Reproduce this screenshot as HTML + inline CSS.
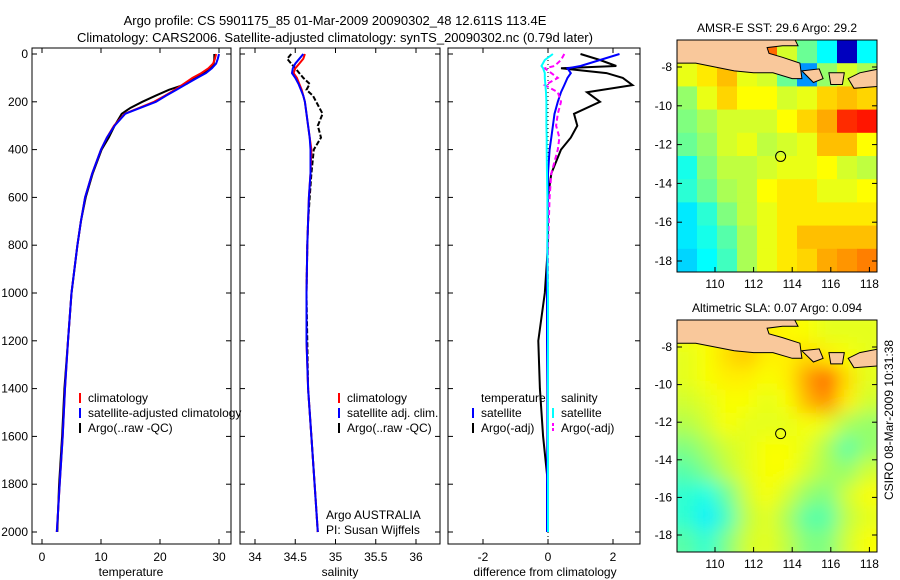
<!DOCTYPE html>
<html><head><meta charset="utf-8">
<style>
body{margin:0;background:#fff;}
svg{display:block;font-family:"Liberation Sans",sans-serif;}
</style></head>
<body>
<svg id="fig" width="900" height="580" viewBox="0 0 900 580">
<text x="335" y="25" font-size="13" text-anchor="middle">Argo profile: CS 5901175_85 01-Mar-2009 20090302_48 12.611S 113.4E</text>
<text x="335" y="42" font-size="13" text-anchor="middle">Climatology: CARS2006. Satellite-adjusted climatology: synTS_20090302.nc (0.79d later)</text>
<text x="893" y="420" font-size="12" text-anchor="middle" transform="rotate(-90 893 420)">CSIRO 08-Mar-2009 10:31:38</text>
<defs>
<clipPath id="c1"><rect x="32" y="48" width="199" height="496"/></clipPath>
<clipPath id="c2"><rect x="240" y="48" width="200" height="496"/></clipPath>
<clipPath id="c3"><rect x="448" y="48" width="192" height="496"/></clipPath>
<clipPath id="m1"><rect x="677" y="40" width="200" height="232"/></clipPath>
<clipPath id="m2"><rect x="677" y="320" width="200" height="232"/></clipPath>
<filter id="blur"><feGaussianBlur stdDeviation="9"/></filter>
</defs>
<g id="layer"></g>
</svg>
<script>
// ---- data ----
const depths = [0,20,40,60,80,100,125,150,175,200,225,250,300,350,400,500,600,700,800,1000,1200,1400,1600,1800,2000];
const tempClim = [29.5,29.3,29,28.2,27,25.5,24,22.5,20.8,19,16.5,14,12.2,11,10,8.5,7.3,6.6,6,5,4.4,3.9,3.5,3.0,2.5];
const tempSat = [30,29.8,29.5,28.8,27.8,26.3,24.5,22.8,21,19.3,16.7,14.1,12.3,11,10,8.5,7.3,6.6,6,5,4.4,3.9,3.5,3.0,2.5];
const tempArgo = [29.2,29.2,29.1,28.5,27.5,26,24.5,21.5,19.2,17,15,13.5,12.3,11.3,10.1,8.6,7.4,6.6,6,5,4.4,3.8,3.4,2.9,2.6];
const salClim = [34.62,34.6,34.55,34.5,34.48,34.52,34.55,34.58,34.6,34.62,34.63,34.64,34.66,34.68,34.7,34.69,34.67,34.66,34.65,34.64,34.64,34.66,34.7,34.74,34.78];
const salSat = [34.6,34.55,34.5,34.47,34.46,34.5,34.54,34.57,34.6,34.62,34.63,34.64,34.66,34.68,34.69,34.69,34.67,34.66,34.65,34.64,34.64,34.66,34.7,34.74,34.78];
const salArgo = [34.45,34.4,34.45,34.5,34.55,34.6,34.68,34.64,34.72,34.76,34.8,34.84,34.78,34.82,34.73,34.7,34.68,34.66,34.65,34.64,34.65,34.66,34.7,34.74,34.78];
const diffDepths = [0,25,50,60,80,100,130,160,200,250,300,350,400,500,600,800,1000,1200,1400,1600,1800,2000];
const dTempArgo = [1.0,1.6,2.1,0.4,1.8,2.3,2.6,1.2,1.6,0.8,0.9,0.7,0.4,0.1,0,0,-0.1,-0.3,-0.25,-0.15,0,0];
const dTempSat = [2.2,1.6,1.0,0.6,0.7,0.6,0.5,0.4,0.3,0.2,0.15,0.1,0.05,0,0,-0.02,-0.03,-0.03,-0.02,-0.02,-0.03,-0.03];
const dSalSat = [0.15,-0.1,-0.2,-0.15,-0.1,-0.1,-0.08,-0.06,-0.05,-0.05,-0.05,-0.04,-0.04,-0.03,-0.02,-0.02,0,0,0,0,0,0];
const dSalArgo = [0.5,0.4,0.2,-0.1,0.1,0.3,-0.1,0.3,0.4,0.3,0.25,0.35,0.3,0.1,0.05,0,0,0,0,0,0,0];
const depthTicks = [0,200,400,600,800,1000,1200,1400,1600,1800,2000];
const tempTicks = [0,10,20,30];
const salTicks = [34,34.5,35,35.5,36];
const diffTicks = [-2,0,2];
const lonTicks = [110,112,114,116,118];
const latTicks = [-8,-10,-12,-14,-16,-18];
const sstGrid = [
[29,29,29,29,29.9,29,28.5,28,26.5,28],
[29.1,29.3,29.5,29.1,29,28.5,27.5,28.7,29,28.8],
[28.7,29.1,29.4,29.2,29.2,29.0,29.1,29.4,29.5,29.4],
[28.6,28.8,29.0,29.0,29.0,29.2,29.4,29.6,30.2,30.3],
[28.5,28.7,29.0,29.1,28.9,29.0,29.1,29.5,29.5,29.2],
[28.1,28.6,28.9,28.9,29.0,29.1,29.1,29.2,29.0,28.9],
[28.2,28.5,28.8,28.9,29.2,29.3,29.3,29.1,29.1,29.2],
[27.9,28.2,28.6,28.9,29.1,29.3,29.3,29.3,29.3,29.3],
[27.9,28.1,28.4,28.8,29.1,29.3,29.5,29.5,29.5,29.5],
[27.8,28.0,28.3,28.8,29.1,29.3,29.4,29.6,29.7,29.8]];
const slaGrid = [
[0.62,0.63,0.64,0.66,0.64,0.63,0.62,0.6,0.6,0.6],
[0.6,0.62,0.66,0.68,0.64,0.64,0.66,0.64,0.62,0.6],
[0.6,0.62,0.64,0.64,0.62,0.64,0.72,0.78,0.66,0.6],
[0.58,0.6,0.62,0.62,0.6,0.62,0.7,0.74,0.64,0.58],
[0.55,0.58,0.62,0.6,0.6,0.6,0.62,0.6,0.54,0.52],
[0.5,0.54,0.58,0.6,0.62,0.62,0.6,0.54,0.46,0.52],
[0.46,0.5,0.56,0.6,0.62,0.62,0.58,0.54,0.52,0.58],
[0.42,0.4,0.48,0.58,0.62,0.58,0.52,0.5,0.58,0.62],
[0.42,0.36,0.44,0.56,0.6,0.54,0.46,0.46,0.56,0.6],
[0.46,0.42,0.5,0.58,0.6,0.56,0.5,0.5,0.58,0.62]];
// ---- helpers ----
const NS="http://www.w3.org/2000/svg";
const layer=document.getElementById('layer');
function mk(tag,attrs,parent){const e=document.createElementNS(NS,tag);for(const k in attrs)e.setAttribute(k,attrs[k]);(parent||layer).appendChild(e);return e;}
const yD=d=>54+d*0.239;
const xT=v=>42+v*5.9;
const xS=v=>255+(v-34)*80.5;
const xDf=v=>548+v*32.5;
function axesBox(x,y,w,h,name){const r=mk('rect',{x:x,y:y,width:w,height:h,fill:'#fff',stroke:'#000','stroke-width':1});}
function line(xs,ys,xf,color,w,clip,name,dash){
  let d='';for(let i=0;i<xs.length;i++){d+=(i?'L':'M')+xf(xs[i]).toFixed(1)+','+yD(ys[i]).toFixed(1);}
  const p=mk('path',{d:d,fill:'none',stroke:color,'stroke-width':w,'clip-path':'url(#'+clip+')'});
  if(dash)p.setAttribute('stroke-dasharray',dash);
  
  
}
function xTicks(ticks,xf,x0,x1,label,lx){
  ticks.forEach(t=>{const x=xf(t);mk('line',{x1:x,y1:544,x2:x,y2:539,stroke:'#000'});mk('line',{x1:x,y1:48,x2:x,y2:53,stroke:'#000'});
    const tx=mk('text',{x:x,y:561,'font-size':12,'text-anchor':'middle'});tx.textContent=String(t);
    
    });
  const l=mk('text',{x:lx,y:576,'font-size':12,'text-anchor':'middle'});l.textContent=label;
  
  
}
function yTicks(x0,x1,labels){
  depthTicks.forEach(d=>{const y=yD(d);mk('line',{x1:x0,y1:y,x2:x0+5,y2:y,stroke:'#000'});mk('line',{x1:x1,y1:y,x2:x1-5,y2:y,stroke:'#000'});
    if(labels){const t=mk('text',{x:x0-4,y:y+4,'font-size':12,'text-anchor':'end'});t.textContent=String(d);
      
      }});
}
function legend(x,y,items){
  items.forEach((it,i)=>{const yy=y+i*15;mk('line',{x1:x,y1:yy-9,x2:x,y2:yy+1,stroke:it[1],'stroke-width':2,'stroke-dasharray':it[2]||''});
    const t=mk('text',{x:x+8,y:yy,'font-size':12});t.textContent=it[0];
    
    });
}
// ---- panel 1 temperature ----
axesBox(32,48,199,496,'temperature-axes');
yTicks(32,231,true);
xTicks(tempTicks,xT,32,231,'temperature',131);
line(tempArgo,depths,xT,'#000',2,'c1','temp-argo-line');
line(tempClim,depths,xT,'#f00',2,'c1','temp-climatology-line');
line(tempSat,depths,xT,'#00f',2,'c1','temp-satellite-line');
// ---- panel 2 salinity ----
axesBox(240,48,200,496,'salinity-axes');
yTicks(240,440,false);
xTicks(salTicks,xS,240,440,'salinity',340);
line(salArgo,depths,xS,'#000',2,'c2','sal-argo-line','5,2');
line(salClim,depths,xS,'#f00',2,'c2','sal-climatology-line');
line(salSat,depths,xS,'#00f',2,'c2','sal-satellite-line');
// ---- panel 3 differences ----
axesBox(448,48,192,496,'difference-axes');
yTicks(448,640,false);
xTicks(diffTicks,xDf,448,640,'difference from climatology',545);
mk('line',{x1:548,y1:48,x2:548,y2:544,stroke:'#000','stroke-dasharray':'1,3'});
line(dTempArgo,diffDepths,xDf,'#000',2,'c3','diff-temp-argo-line');
line(dTempSat,diffDepths,xDf,'#00f',2,'c3','diff-temp-satellite-line');
line(dSalArgo,diffDepths,xDf,'#f0f',2,'c3','diff-sal-argo-line','5,3');
line(dSalSat,diffDepths,xDf,'#0ff',2,'c3','diff-sal-satellite-line');
legend(80,402,[['climatology','#f00'],['satellite-adjusted climatology','#00f'],['Argo(..raw -QC)','#000']]);
legend(339,402,[['climatology','#f00'],['satellite adj. clim.','#00f'],['Argo(..raw -QC)','#000']]);
legend(473,402,[['temperature','#fff'],['satellite','#00f'],['Argo(-adj)','#000']]);
legend(553,402,[['salinity','#fff'],['satellite','#0ff'],['Argo(-adj)','#f0f','3,2']]);
[['Argo AUSTRALIA',519],['PI: Susan Wijffels',534]].forEach(a=>{const t=mk('text',{x:326,y:a[1],'font-size':12});t.textContent=a[0];
  
  });
// ---- maps ----
function jet(v){v=Math.max(0,Math.min(1,v));const r=Math.max(0,Math.min(1,1.5-Math.abs(4*v-3))),g=Math.max(0,Math.min(1,1.5-Math.abs(4*v-2))),b=Math.max(0,Math.min(1,1.5-Math.abs(4*v-1)));return `rgb(${Math.round(r*255)},${Math.round(g*255)},${Math.round(b*255)})`;}
const land=[[[108,-6.5],[108,-7.8],[109,-7.8],[110,-8.0],[111,-8.2],[112,-8.3],[113,-8.3],[114,-8.6],[114.5,-8.6],[114.4,-7.8],[113.5,-7.5],[112.8,-7.3],[112.7,-7.0],[113.5,-6.9],[114.3,-6.9],[114.1,-6.5]],
[[114.5,-8.2],[115.1,-8.8],[115.6,-8.6],[115.4,-8.1]],
[[115.9,-8.3],[116.0,-8.9],[116.6,-8.9],[116.7,-8.3]],
[[116.9,-8.6],[117.2,-9.1],[118.5,-9.0],[118.5,-8.1],[117.5,-8.3]]];
function map(oy,grid,lo,hi,clip,title,name,blur){
  const px=lon=>715+(lon-110)*19.3, py=lat=>(oy+27)+(-8-lat)*(oy===40?19.4:18.8);
  const g=mk('g',{'clip-path':'url(#'+clip+')'});
  
  
  const inner=mk('g',blur?{filter:'url(#blur)'}:{},g);
  const cw=200/grid[0].length, ch=232/grid.length;
  const pad=blur?15:0;
  grid.forEach((row,r)=>row.forEach((v,c)=>{
    const x=677+c*cw-(c===0?pad:0), y=oy+r*ch-(r===0?pad:0);
    mk('rect',{x:x,y:y,width:cw+0.6+(c===0||c===row.length-1?pad:0),height:ch+0.6+(r===0||r===grid.length-1?pad:0),fill:jet((v-lo)/(hi-lo))},inner);}));
  land.forEach(poly=>{mk('path',{d:poly.map((p,i)=>(i?'L':'M')+px(p[0]).toFixed(1)+','+py(p[1]).toFixed(1)).join('')+'Z',fill:'#f9c89b',stroke:'#000','stroke-width':1},g);});
  mk('rect',{x:677,y:oy,width:200,height:232,fill:'none',stroke:'#000'});
  mk('circle',{cx:px(113.4),cy:py(-12.61),r:5,fill:'none',stroke:'#000','stroke-width':1});
  lonTicks.forEach(l=>{const x=px(l);mk('line',{x1:x,y1:oy+232,x2:x,y2:oy+227,stroke:'#000'});
    const t=mk('text',{x:x,y:oy+248,'font-size':12,'text-anchor':'middle'});t.textContent=String(l);
    
    });
  latTicks.forEach(l=>{const y=py(l);mk('line',{x1:677,y1:y,x2:682,y2:y,stroke:'#000'});mk('line',{x1:877,y1:y,x2:872,y2:y,stroke:'#000'});
    const t=mk('text',{x:672,y:y+4,'font-size':12,'text-anchor':'end'});t.textContent=String(l);
    
    });
  const t=mk('text',{x:777,y:oy-8,'font-size':12,'text-anchor':'middle'});t.textContent=title;
  
  
}
map(40,sstGrid,26.2,31.0,'m1','AMSR-E SST: 29.6 Argo: 29.2','sst-map',false);
map(320,slaGrid,0,1,'m2','Altimetric SLA: 0.07 Argo: 0.094','sla-map',true);
</script>
</body></html>
